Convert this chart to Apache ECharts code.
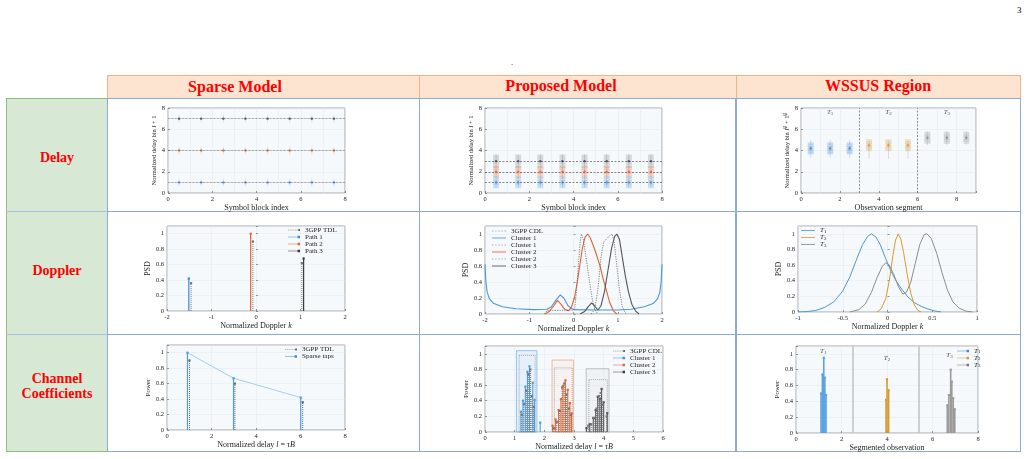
<!DOCTYPE html>
<html>
<head>
<meta charset="utf-8">
<script src="https://cdn.jsdelivr.net/npm/echarts@6/dist/echarts.min.js"></script>
<style>
body{margin:0;width:1034px;height:459px;position:relative;background:#fff;overflow:hidden;font-family:'Liberation Serif',serif}
.cell{position:absolute;box-sizing:border-box}
.hd{background:#fce4d0;border:1px solid #f4b183}
.side{background:#d7e9d5;border-left:1px solid #8cbf78;border-right:1px solid #8eaadb;border-bottom:1px solid #8cbf78}
.sep{position:absolute;left:6px;width:101px;height:1px;background:#a7bfe0}
.box{border:1px solid #8eaadb;background:#fff}
.ttl{position:absolute;transform:translate(-50%,-50%);white-space:nowrap;color:#f00;font-weight:bold;font-size:16px;font-family:'Liberation Serif',serif}
.lbl{position:absolute;transform:translate(-50%,-50%);text-align:center;color:#f00;font-weight:bold;font-size:14px;line-height:15px;font-family:'Liberation Serif',serif}
.chart{position:absolute;left:0;top:0;width:1034px;height:459px}
</style>
</head>
<body>
<div style="position:absolute;left:1017px;top:5px;font-size:9px">3</div>
<div style="position:absolute;left:511px;top:58px;font-size:8px">.</div>

<div class="cell hd" style="left:107px;top:75px;width:313px;height:24px"></div>
<div class="cell hd" style="left:419px;top:75px;width:318px;height:24px"></div>
<div class="cell hd" style="left:736px;top:75px;width:285px;height:24px"></div>
<div class="ttl" style="left:235px;top:87px">Sparse Model</div>
<div class="ttl" style="left:561px;top:86px">Proposed Model</div>
<div class="ttl" style="left:878px;top:86px">WSSUS Region</div>

<div class="cell side" style="left:6px;top:98px;width:102px;height:354px;border-top:1px solid #8cbf78"></div>
<div class="sep" style="top:211px"></div>
<div class="sep" style="top:334px"></div>
<div class="lbl" style="left:57px;top:157px">Delay</div>
<div class="lbl" style="left:57px;top:270px">Doppler</div>
<div class="lbl" style="left:57px;top:386px">Channel<br>Coefficients</div>

<div class="cell box" style="left:107px;top:98px;width:313px;height:114px"></div>
<div class="cell box" style="left:419px;top:98px;width:318px;height:114px;border-right-width:2px"></div>
<div class="cell box" style="left:736px;top:98px;width:285px;height:114px"></div>
<div class="cell box" style="left:107px;top:211px;width:313px;height:124px"></div>
<div class="cell box" style="left:419px;top:211px;width:318px;height:124px;border-right-width:2px"></div>
<div class="cell box" style="left:736px;top:211px;width:285px;height:124px"></div>
<div class="cell box" style="left:107px;top:334px;width:313px;height:118px"></div>
<div class="cell box" style="left:419px;top:334px;width:318px;height:118px;border-right-width:2px"></div>
<div class="cell box" style="left:736px;top:334px;width:285px;height:118px"></div>

<script>
// ---------- data ----------
var symbolIdx = [0.5, 1.5, 2.5, 3.5, 4.5, 5.5, 6.5, 7.5];
var sparseDelayBins = [1, 4, 7];
var sparseDelayHalfSpread = 0.35;

var propDelayBins = [1, 2, 3];
var propCluster1Levels = [0.55, 0.75, 0.9, 1.1, 1.25, 1.45];
var propCluster2Levels = [1.55, 1.75, 1.9, 2.1, 2.25, 2.45];
var propCluster3Levels = [2.45, 2.7, 2.9, 3.1, 3.3, 3.5];
var propWhisker = [0.55, 3.65];

var wssusSegments = [0.5, 1.5, 2.5, 3.5, 4.5, 5.5, 6.5, 7.5, 8.5];
var wssusDelayMean = [4.2, 4.2, 4.2, 4.5, 4.5, 4.5, 5.2, 5.2, 5.2];
var wssusDelayLow = [3.3, 3.3, 3.3, 3.2, 3.2, 3.2, 4.5, 4.5, 4.5];
var wssusDelayHigh = [5.0, 5.0, 5.0, 4.9, 4.9, 4.9, 5.8, 5.8, 5.8];
var wssusCloudOffsets = [-0.45, -0.25, -0.1, 0.1, 0.25, 0.45];
var wssusBounds = [3, 6];
var wssusLabelX = [1.5, 4.5, 7.5];

var sparsePath1 = [[-1.51, 0.42]];
var sparsePath2 = [[-0.12, 1.0]];
var sparsePath3 = [[1.07, 0.68]];
var sparseTdlDoppler = [[-1.46, 0.36], [-0.07, 0.90], [1.03, 0.62]];

var dopCdlBase = [[-0.65, 0], [-0.6, 0.045], [-0.3, 0.045], [0, 0.05], [0.03, 0.08]];
var dopCluster1 = [[-2, 0.62], [-1.98, 0.4], [-1.95, 0.27], [-1.9, 0.19], [-1.8, 0.13], [-1.6, 0.09], [-1.3, 0.065], [-0.9, 0.055], [-0.6, 0.06], [-0.5, 0.09], [-0.4, 0.17], [-0.3, 0.24], [-0.22, 0.2], [-0.12, 0.1], [0, 0.055], [0.5, 0.05], [1, 0.05], [1.3, 0.06], [1.6, 0.09], [1.8, 0.13], [1.9, 0.19], [1.95, 0.27], [1.98, 0.4], [2, 0.62]];
var dopCdl1 = [[0.03, 0.08], [0.07, 0.3], [0.11, 0.62], [0.15, 0.9], [0.18, 1.0], [0.22, 0.93], [0.28, 0.72], [0.35, 0.45], [0.42, 0.2], [0.48, 0.06], [0.55, 0]];
var dopCluster2 = [[-0.65, 0], [-0.55, 0.03], [-0.45, 0.1], [-0.36, 0.17], [-0.28, 0.12], [-0.2, 0.06], [-0.12, 0.04], [-0.05, 0.08], [0.02, 0.2], [0.08, 0.38], [0.14, 0.6], [0.2, 0.82], [0.26, 0.96], [0.32, 1.0], [0.38, 0.95], [0.45, 0.85], [0.52, 0.74], [0.6, 0.6], [0.67, 0.44], [0.75, 0.28], [0.82, 0.14], [0.9, 0.04], [0.98, 0]];
var dopCdl2 = [[0.4, 0], [0.48, 0.06], [0.55, 0.3], [0.62, 0.7], [0.68, 0.9], [0.75, 0.94], [0.82, 0.98], [0.87, 1.0], [0.92, 0.9], [0.98, 0.6], [1.04, 0.3], [1.1, 0.1], [1.16, 0.02], [1.2, 0]];
var dopCluster3 = [[0.15, 0], [0.25, 0.03], [0.33, 0.09], [0.41, 0.14], [0.48, 0.1], [0.55, 0.05], [0.62, 0.1], [0.7, 0.28], [0.78, 0.55], [0.86, 0.82], [0.93, 0.97], [0.98, 1.0], [1.04, 0.93], [1.1, 0.72], [1.17, 0.48], [1.24, 0.28], [1.32, 0.12], [1.4, 0.04], [1.48, 0]];

var wsDopT1 = [[-1, 0], [-0.9, 0.005], [-0.8, 0.02], [-0.7, 0.06], [-0.6, 0.13], [-0.5, 0.27], [-0.42, 0.45], [-0.35, 0.66], [-0.28, 0.86], [-0.22, 0.97], [-0.18, 1.0], [-0.13, 0.96], [-0.08, 0.86], [-0.02, 0.68], [0.04, 0.52], [0.1, 0.39], [0.16, 0.29], [0.23, 0.19], [0.3, 0.12], [0.38, 0.07], [0.45, 0.04], [0.52, 0.015], [0.6, 0]];
var wsDopT2 = [[-0.12, 0], [-0.07, 0.04], [-0.02, 0.17], [0.02, 0.4], [0.06, 0.72], [0.09, 0.92], [0.12, 1.0], [0.15, 0.93], [0.18, 0.76], [0.22, 0.48], [0.26, 0.24], [0.3, 0.09], [0.34, 0.02], [0.38, 0]];
var wsDopT3 = [[-0.42, 0], [-0.32, 0.03], [-0.25, 0.1], [-0.18, 0.25], [-0.12, 0.43], [-0.06, 0.58], [-0.02, 0.63], [0.02, 0.6], [0.07, 0.48], [0.12, 0.33], [0.17, 0.23], [0.21, 0.25], [0.26, 0.38], [0.31, 0.62], [0.36, 0.86], [0.41, 0.99], [0.44, 1.0], [0.49, 0.94], [0.55, 0.75], [0.61, 0.5], [0.67, 0.28], [0.73, 0.13], [0.8, 0.05], [0.88, 0.01], [0.95, 0]];

var sparseTaps = [[0.92, 1.0], [2.99, 0.67], [6.01, 0.42]];
var tdlTaps = [[1.01, 0.9], [3.05, 0.6], [6.1, 0.36]];

var propBoxOuter = [[1.06, 1.75, 1.04], [2.26, 2.98, 0.92], [3.41, 4.18, 0.81]];
var propBoxInner = [[1.15, 1.69, 0.98], [2.34, 2.94, 0.82], [3.5, 4.12, 0.67]];
var propTapsC1 = [[1.21, 0.26], [1.28, 0.40], [1.36, 0.58], [1.43, 0.77], [1.50, 0.84], [1.61, 0.63], [1.67, 0.41], [1.86, 0.12]];
var cdlTapsC1 = [[1.24, 0.22], [1.31, 0.36], [1.39, 0.53], [1.46, 0.74], [1.53, 0.80], [1.58, 0.46], [1.64, 0.32]];
var propTapsC2 = [[2.28, 0.08], [2.38, 0.16], [2.48, 0.28], [2.56, 0.42], [2.63, 0.59], [2.71, 0.66], [2.79, 0.54], [2.86, 0.37], [2.92, 0.24]];
var cdlTapsC2 = [[2.32, 0.05], [2.42, 0.13], [2.52, 0.27], [2.6, 0.57], [2.67, 0.62], [2.75, 0.48], [2.83, 0.3], [2.9, 0.22]];
var propTapsC3 = [[3.42, 0.05], [3.53, 0.10], [3.65, 0.18], [3.73, 0.28], [3.8, 0.45], [3.87, 0.42], [3.93, 0.55], [4.0, 0.38], [4.12, 0.24]];
var cdlTapsC3 = [[3.48, 0.08], [3.58, 0.10], [3.68, 0.18], [3.76, 0.30], [3.84, 0.46], [3.9, 0.50], [3.97, 0.35], [4.1, 0.20]];

var wsTapsT1 = [[1.1, 0.5], [1.16, 0.74], [1.22, 0.95], [1.27, 0.7], [1.32, 0.48]];
var wsTapsT2 = [[3.96, 0.42], [4.0, 0.68], [4.07, 0.54]];
var wsTapsT3 = [[6.65, 0.35], [6.72, 0.48], [6.8, 0.8], [6.85, 0.65], [6.91, 0.44], [6.98, 0.3]];
var wsChanBounds = [2.51, 5.4];
var wsChanLabels = [[1.2, 1.03], [4.0, 0.94], [6.75, 0.99]];

// ---------- style helpers ----------
var FONT = 'Liberation Serif';
var BLUE = '#3b8ad6', ORANGE = '#e5622f', DARK = '#3a3a3a', GRAY = '#8a8a8a', GOLD = '#d89a2e';
var ZW = '\u200b';
var STEM_ICON = 'path://M0,4.6H17V5.4H0Z M16,3H20V7H16Z';
var STEM_DOT_ICON = 'path://M0,4.6H2V5.4H0Z M3.5,4.6H5.5V5.4H3.5Z M7,4.6H9V5.4H7Z M10.5,4.6H12.5V5.4H10.5Z M14,4.6H16V5.4H14Z M16.5,3.5H19.5V6.5H16.5Z';
var LINE_ICON = 'path://M0,4.4H20V5.6H0Z';
var LINE_DOT_ICON = 'path://M0,4.6H2V5.4H0Z M4.5,4.6H6.5V5.4H4.5Z M9,4.6H11V5.4H9Z M13.5,4.6H15.5V5.4H13.5Z M18,4.6H20V5.4H18Z';
var T_RICH = {t: {fontStyle: 'italic', fontFamily: FONT, fontSize: 7, color: '#222'}, s: {fontFamily: FONT, fontSize: 5, color: '#222', verticalAlign: 'bottom', padding: [3, 0, 0, 0]}};

function gridAt(l, t, r, b) {
  return {left: l, top: t, width: r - l, height: b - t, show: true, backgroundColor: '#f6f9fc', borderColor: '#6f6f6f', borderWidth: 0.6};
}
function axis(min, max, interval, name, gap, hideAbove, fs) {
  return {
    type: 'value', min: min, max: max, interval: interval,
    name: name, nameLocation: 'middle', nameGap: gap,
    nameTextStyle: {fontFamily: FONT, fontSize: fs || 8, color: '#222',
      rich: {i: {fontStyle: 'italic', fontFamily: FONT, fontSize: fs || 8, color: '#222'}}},
    axisLine: {show: false},
    axisTick: {show: true, inside: true, length: 2, lineStyle: {color: '#555', width: 0.6}},
    axisLabel: {fontFamily: FONT, fontSize: 6.5, color: '#222', margin: 3,
      formatter: function (v) { return (hideAbove != null && v > hideAbove) ? '' : String(v); }},
    splitLine: {show: true, lineStyle: {color: '#e3e9f0', width: 0.5}}
  };
}
function minorGrid(ax) {
  ax.minorTick = {show: false, splitNumber: 2};
  ax.minorSplitLine = {show: true, lineStyle: {color: '#e3e9f0', width: 0.5}};
  return ax;
}
function stemSeries(name, data, color, opt) {
  opt = opt || {};
  return {
    type: 'custom', name: name, data: data, z: opt.z || 3, itemStyle: {color: color},
    renderItem: function (params, api) {
      var x = api.value(0), y = api.value(1);
      var p0 = api.coord([x, 0]), p1 = api.coord([x, y]);
      var kids = [{type: 'line', shape: {x1: p0[0], y1: p0[1], x2: p1[0], y2: p1[1]},
        style: {stroke: color, lineWidth: opt.width || 1, lineDash: opt.dotted ? [1, 1] : null, opacity: opt.opacity || 1}}];
      if (opt.marker !== false) {
        var m = opt.msize || 2.2;
        kids.push({type: 'rect', shape: {x: p1[0] - m / 2, y: p1[1] - m / 2, width: m, height: m}, style: {fill: opt.mcolor || color}});
      }
      return {type: 'group', children: kids};
    }
  };
}
function whiskerSeries(data, color) {
  return {
    type: 'custom', data: data, z: 2, silent: true,
    renderItem: function (params, api) {
      var a = api.coord([api.value(0), api.value(1)]), b = api.coord([api.value(0), api.value(2)]);
      return {type: 'line', shape: {x1: a[0], y1: a[1], x2: b[0], y2: b[1]}, style: {stroke: color, lineWidth: 0.6}};
    }
  };
}
function cloud(xs, levels, color, w) {
  var d = [];
  xs.forEach(function (x) { levels.forEach(function (l) { d.push([x, l]); }); });
  return {type: 'scatter', data: d, symbol: 'rect', symbolSize: [w || 6, 2.5], silent: true, z: 2,
    itemStyle: {color: color, opacity: 0.2}};
}
function refLines(values, key, color, type) {
  return {symbol: 'none', silent: true, label: {show: false},
    lineStyle: {color: color, width: 0.7, type: type || 'dotted'},
    data: values.map(function (v) { var o = {}; o[key] = v; return o; })};
}
function legendBox(left, top, items, extra) {
  var l = {orient: 'vertical', left: left, top: top, padding: 0, itemGap: 0, itemWidth: 12, itemHeight: 5,
    selectedMode: false,
    textStyle: {fontFamily: FONT, fontSize: 7, color: '#222', lineHeight: 6.8, rich: T_RICH},
    formatter: function (n) { return n.replace(/\u200b/g, ''); },
    data: items};
  for (var k in extra) l[k] = extra[k];
  return l;
}
function lineSeries(name, data, color, width, dotted) {
  return {type: 'line', name: name, data: data, showSymbol: false, symbol: 'none', silent: true,
    lineStyle: {color: color, width: width, type: dotted ? [1.2, 1.2] : 'solid'}, itemStyle: {color: color}, z: dotted ? 4 : 3};
}
function lineItem(name, color, dotted) {
  return {name: name, icon: dotted ? LINE_DOT_ICON : LINE_ICON, itemStyle: {color: color}};
}
function mk(option) {
  var d = document.createElement('div');
  d.className = 'chart';
  document.body.appendChild(d);
  var c = echarts.init(d, null, {renderer: 'canvas'});
  option.animation = false;
  c.setOption(option);
}
var T_FMT = function (n) { return '{t|T}{s|' + n.replace('T', '') + '}'; };

// ---------- row 1: delay ----------
(function () {
  var cols = [BLUE, ORANGE, DARK];
  var series = [];
  var wh = [];
  symbolIdx.forEach(function (x) {
    sparseDelayBins.forEach(function (b) { wh.push([x, b - sparseDelayHalfSpread, b + sparseDelayHalfSpread]); });
  });
  series.push(whiskerSeries(wh, '#c9ced6'));
  sparseDelayBins.forEach(function (b, i) {
    series.push({type: 'scatter', data: symbolIdx.map(function (x) { return [x, b]; }), symbol: 'circle', symbolSize: 2.4,
      itemStyle: {color: cols[i]}, z: 4,
      markLine: i === 0 ? refLines(sparseDelayBins, 'yAxis', '#555') : undefined});
  });
  mk({
    grid: gridAt(168, 108, 345, 193),
    xAxis: minorGrid(axis(0, 8, 2, 'Symbol block index', 7)),
    yAxis: axis(0, 8, 2, 'Normalized delay bin {i|l} + 1', 10, null, 6.5),
    series: series
  });
})();

(function () {
  var series = [];
  series.push(whiskerSeries(symbolIdx.map(function (x) { return [x, propWhisker[0], propWhisker[1]]; }), '#b9bec6'));
  series.push(cloud(symbolIdx, propCluster3Levels, '#6d6d6d'));
  series.push(cloud(symbolIdx, propCluster2Levels, ORANGE));
  series.push(cloud(symbolIdx, propCluster1Levels, BLUE));
  var cols = [BLUE, ORANGE, DARK];
  propDelayBins.forEach(function (b, i) {
    series.push({type: 'scatter', data: symbolIdx.map(function (x) { return [x, b]; }), symbol: 'circle', symbolSize: 2.4,
      itemStyle: {color: cols[i]}, z: 5,
      markLine: i === 0 ? refLines(propDelayBins, 'yAxis', '#555', [2, 1.5]) : undefined});
  });
  mk({
    grid: gridAt(485, 108, 662, 193),
    xAxis: minorGrid(axis(0, 8, 2, 'Symbol block index', 7)),
    yAxis: axis(0, 8, 2, 'Normalized delay bin {i|l} + 1', 10, null, 6.5),
    series: series
  });
})();

(function () {
  var cols = [BLUE, BLUE, BLUE, GOLD, GOLD, GOLD, GRAY, GRAY, GRAY];
  var series = [];
  series.push(whiskerSeries(wssusSegments.map(function (x, i) { return [x, wssusDelayLow[i], wssusDelayHigh[i]]; }), '#c3c8cf'));
  var cl = [];
  wssusSegments.forEach(function (x, i) {
    wssusCloudOffsets.forEach(function (o) { cl.push({value: [x, wssusDelayMean[i] + o], itemStyle: {color: cols[i]}}); });
  });
  series.push({type: 'scatter', data: cl, symbol: 'rect', symbolSize: [6, 2.5], silent: true, itemStyle: {opacity: 0.25}, z: 2});
  series.push({type: 'scatter', z: 5, symbol: 'circle', symbolSize: 2.6,
    data: wssusSegments.map(function (x, i) { return {value: [x, wssusDelayMean[i]], itemStyle: {color: cols[i]}}; }),
    markLine: refLines(wssusBounds, 'xAxis', '#666', [2, 1.5])});
  series.push({type: 'scatter', symbolSize: 0, silent: true, z: 6,
    data: wssusLabelX.map(function (x, i) { return {value: [x, 7.6], label: {show: true, position: 'inside', formatter: '{t|T}{s|' + (i + 1) + '}', rich: T_RICH}}; })});
  mk({
    grid: gridAt(801, 108, 976, 193),
    xAxis: minorGrid(axis(0, 9, 2, 'Observation segment', 7, 8.5)),
    yAxis: axis(0, 8, 2, 'Normalized delay bin {i|l}\u207d\u2071\u207e + 1\u207d\u2071\u207e', 10, null, 6.5),
    series: series
  });
})();

// ---------- row 2: doppler ----------
mk({
  grid: gridAt(167, 226, 345, 311),
  xAxis: axis(-2, 2, 1, 'Normalized Doppler {i|k}', 7),
  yAxis: axis(0, 1.1, 0.2, 'PSD', 15, 1.05),
  legend: legendBox(288, 226.5, [
    {name: '3GPP TDL', icon: STEM_DOT_ICON, itemStyle: {color: '#666'}},
    {name: 'Path 1', icon: STEM_ICON, itemStyle: {color: BLUE}},
    {name: 'Path 2', icon: STEM_ICON, itemStyle: {color: ORANGE}},
    {name: 'Path 3', icon: STEM_ICON, itemStyle: {color: DARK}}
  ]),
  series: [
    stemSeries('3GPP TDL', sparseTdlDoppler, '#777', {dotted: true}),
    stemSeries('Path 1', sparsePath1, BLUE, {width: 1.2}),
    stemSeries('Path 2', sparsePath2, ORANGE, {width: 1.2}),
    stemSeries('Path 3', sparsePath3, DARK, {width: 1.2})
  ]
});

mk({
  grid: gridAt(485, 226, 662, 314),
  xAxis: axis(-2, 2, 1, 'Normalized Doppler {i|k}', 4),
  yAxis: axis(0, 1.1, 0.2, 'PSD', 15, 1.05),
  legend: legendBox(492, 227.5, [
    lineItem('3GPP CDL', '#666', true), lineItem('Cluster 1', '#4a98d9'), lineItem('Cluster 1' + ZW, '#666', true),
    lineItem('Cluster 2', ORANGE), lineItem('Cluster 2' + ZW, '#666', true), lineItem('Cluster 3', '#555')
  ], {itemWidth: 14, itemHeight: 4}),
  series: [
    lineSeries('3GPP CDL', dopCdlBase, '#666', 0.8, true),
    lineSeries('Cluster 1', dopCluster1, '#4a98d9', 1.1),
    lineSeries('Cluster 1' + ZW, dopCdl1, '#666', 0.8, true),
    lineSeries('Cluster 2', dopCluster2, ORANGE, 1.1),
    lineSeries('Cluster 2' + ZW, dopCdl2, '#666', 0.8, true),
    lineSeries('Cluster 3', dopCluster3, '#555', 1.1)
  ]
});

mk({
  grid: gridAt(798, 226, 977, 312),
  xAxis: axis(-1, 1, 0.5, 'Normalized Doppler {i|k}', 7),
  yAxis: axis(0, 1.1, 0.2, 'PSD', 15, 1.05),
  legend: legendBox(801, 227, [lineItem('T1', '#4a98d9'), lineItem('T2', GOLD), lineItem('T3', '#8c8c8c')],
    {formatter: T_FMT, itemWidth: 14, itemHeight: 4}),
  series: [
    lineSeries('T1', wsDopT1, '#4a98d9', 1),
    lineSeries('T2', wsDopT2, GOLD, 1),
    lineSeries('T3', wsDopT3, '#8c8c8c', 1)
  ]
});

// ---------- row 3: channel coefficients ----------
mk({
  grid: gridAt(167, 345, 345, 430),
  xAxis: axis(0, 8, 2, 'Normalized delay {i|l} = {i|\u03c4B}', 7),
  yAxis: axis(0, 1.1, 0.2, 'Power', 15, 1.05, 7),
  legend: legendBox(285, 346, [
    {name: '3GPP TDL', icon: STEM_DOT_ICON, itemStyle: {color: '#666'}},
    {name: 'Sparse taps', icon: STEM_ICON, itemStyle: {color: BLUE}}
  ]),
  series: [
    {type: 'line', data: sparseTaps, showSymbol: false, silent: true, lineStyle: {color: '#8fc3ec', width: 0.8}, z: 2},
    stemSeries('3GPP TDL', tdlTaps, '#666', {dotted: true}),
    stemSeries('Sparse taps', sparseTaps, '#4f9de0', {width: 1.2})
  ]
});

(function () {
  var boxCols = ['#7fb6e6', '#f0a784', '#b5b5b5'];
  var fillCols = ['rgba(120,180,235,0.12)', 'rgba(240,160,120,0.08)', 'rgba(170,170,170,0.08)'];
  var boxes = {
    type: 'custom', silent: true, z: 1, data: propBoxOuter,
    renderItem: function (params, api) {
      var i = params.dataIndex;
      var a = api.coord([api.value(0), api.value(2)]), b = api.coord([api.value(1), 0]);
      var inner = propBoxInner[i];
      var c = api.coord([inner[0], inner[2]]), e = api.coord([inner[1], 0]);
      return {type: 'group', children: [
        {type: 'rect', shape: {x: a[0], y: a[1], width: b[0] - a[0], height: b[1] - a[1]}, style: {fill: fillCols[i], stroke: boxCols[i], lineWidth: 0.8}},
        {type: 'rect', shape: {x: c[0], y: c[1], width: e[0] - c[0], height: e[1] - c[1]}, style: {fill: 'none', stroke: '#777', lineWidth: 0.6, lineDash: [1, 1]}}
      ]};
    }
  };
  mk({
    grid: gridAt(485, 346, 663, 432),
    xAxis: axis(0, 6, 1, 'Normalized delay {i|l} = {i|\u03c4B}', 7),
    yAxis: axis(0, 1.1, 0.2, 'Power', 15, 1.05, 7),
    legend: legendBox(613, 347.5, [
      {name: '3GPP CDL', icon: STEM_DOT_ICON, itemStyle: {color: '#666'}},
      {name: 'Cluster 1', icon: STEM_ICON, itemStyle: {color: BLUE}},
      {name: 'Cluster 2', icon: STEM_ICON, itemStyle: {color: ORANGE}},
      {name: 'Cluster 3', icon: STEM_ICON, itemStyle: {color: DARK}}
    ]),
    series: [
      boxes,
      stemSeries('Cluster 1', propTapsC1, '#4f9de0', {width: 1.1}),
      stemSeries('Cluster 2', propTapsC2, ORANGE, {width: 1.1}),
      stemSeries('Cluster 3', propTapsC3, '#555', {width: 1.1}),
      stemSeries('3GPP CDL', cdlTapsC1.concat(cdlTapsC2, cdlTapsC3), '#777', {dotted: true, z: 4})
    ]
  });
})();

mk({
  grid: gridAt(796, 346, 978, 433),
  xAxis: axis(0, 8, 2, 'Segmented observation', 7),
  yAxis: axis(0, 1.1, 0.2, 'Power', 15, 1.05, 7),
  legend: legendBox(957, 347.5, [
    {name: 'T1', icon: STEM_ICON, itemStyle: {color: BLUE}},
    {name: 'T2', icon: STEM_ICON, itemStyle: {color: GOLD}},
    {name: 'T3', icon: STEM_ICON, itemStyle: {color: '#777'}}
  ], {formatter: T_FMT}),
  series: [
    {type: 'scatter', symbolSize: 0, silent: true, data: [],
      markLine: {symbol: 'none', silent: true, label: {show: false}, lineStyle: {color: '#c4c4c4', width: 1.6, type: 'solid'},
        data: wsChanBounds.map(function (v) { return {xAxis: v}; })}},
    stemSeries('T1', wsTapsT1, '#5aa2e2', {width: 1.6}),
    stemSeries('T2', wsTapsT2, GOLD, {width: 1.6}),
    stemSeries('T3', wsTapsT3, '#9a9a9a', {width: 1.6}),
    {type: 'scatter', symbolSize: 0, silent: true, z: 6,
      data: wsChanLabels.map(function (p, i) { return {value: p, label: {show: true, position: 'inside', formatter: '{t|T}{s|' + (i + 1) + '}', rich: T_RICH}}; })}
  ]
});
</script>
</body>
</html>
